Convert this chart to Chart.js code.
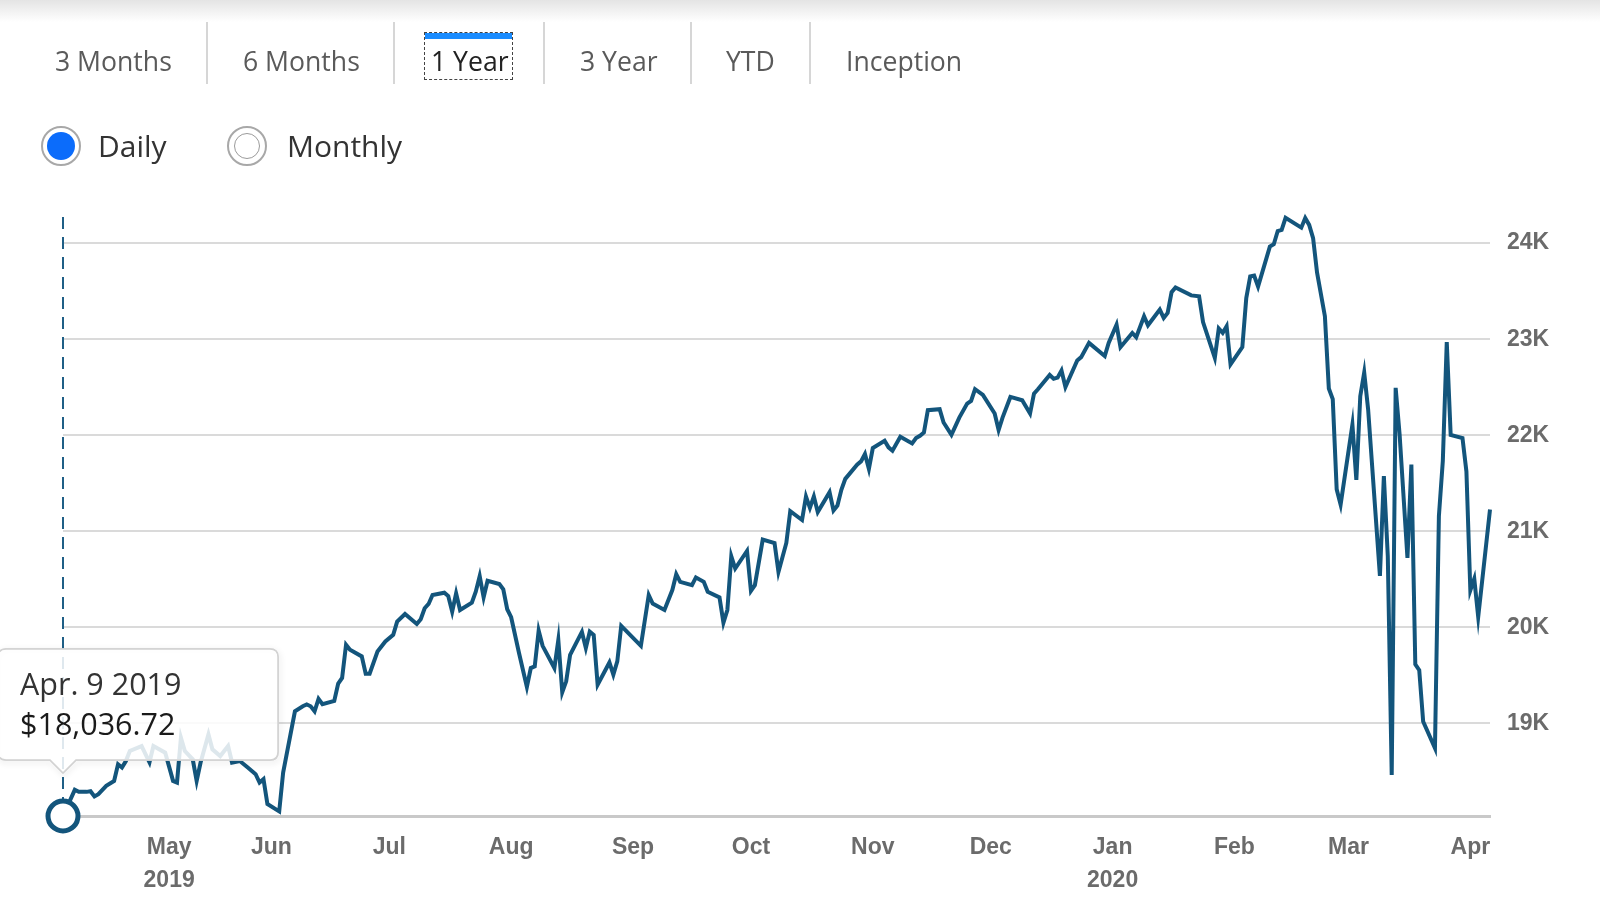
<!DOCTYPE html>
<html>
<head>
<meta charset="utf-8">
<title>Growth of 10K - 1 Year</title>
<script src="https://cdn.jsdelivr.net/npm/chart.js@4.4.1/dist/chart.umd.min.js"></script>
<style>
  html, body { margin: 0; padding: 0; background: #fff; }
  body { width: 1600px; height: 897px; overflow: hidden; position: relative; font-family: "Open Sans", sans-serif; }
  .shade { position: absolute; left: 0; top: 0; width: 1600px; height: 22px; background: linear-gradient(#e4e4e4, #ffffff); }
  .tab { position: absolute; top: 41px; line-height: 40px; font-size: 26.6px; color: #5a5a5a; white-space: nowrap; }
  .tab.active { color: #222; }
  .sep { position: absolute; top: 22px; width: 2px; height: 62px; background: #d6d6d6; }
  .focus { position: absolute; left: 424px; top: 32px; width: 87px; height: 46px; border: 1.5px dashed #444; }
  .focus .bar { position: absolute; left: 0; top: 0; right: 0; height: 6px; background: #1a8cff; }
  .radio { position: absolute; top: 126px; width: 36px; height: 36px; border: 2px solid #a8a8a8; border-radius: 50%; }
  .radio .dot { position: absolute; left: 4px; top: 4px; width: 28px; height: 28px; border-radius: 50%; background: #0b6cfb; }
  .radio .ring { position: absolute; left: 5px; top: 5px; width: 24px; height: 24px; border-radius: 50%; border: 1.5px solid #9a9a9a; }
  .rlabel { position: absolute; top: 126px; line-height: 40px; font-size: 30px; color: #333; }
  #chart { position: absolute; left: 0; top: 0; }
</style>
</head>
<body>
<canvas id="chart" width="1600" height="897"></canvas>
<div class="shade"></div>

<span class="tab" style="left:55px">3 Months</span>
<div class="sep" style="left:206px"></div>
<span class="tab" style="left:243px">6 Months</span>
<div class="sep" style="left:393px"></div>
<div class="focus"><div class="bar"></div></div>
<span class="tab active" style="left:431px">1 Year</span>
<div class="sep" style="left:543px"></div>
<span class="tab" style="left:580px">3 Year</span>
<div class="sep" style="left:690px"></div>
<span class="tab" style="left:726px">YTD</span>
<div class="sep" style="left:809px"></div>
<span class="tab" style="left:846px">Inception</span>

<div class="radio" style="left:41px"><div class="dot"></div></div>
<span class="rlabel" style="left:98px">Daily</span>
<div class="radio" style="left:227px"><div class="ring"></div></div>
<span class="rlabel" style="left:287px">Monthly</span>

<script>
// first day of the series, other points are day offsets from it
const startDate = new Date(2019, 3, 9);

const dayOffsets = [
  0, 3, 4, 6, 7, 8, 9, 11, 13, 14, 15, 16, 17, 20, 22, 23, 26, 28, 29, 30,
  31, 33, 34, 35, 37, 38, 40, 42, 43, 45, 47, 49, 50, 51, 52, 55, 56, 59, 61, 62,
  63, 64, 65, 66, 69, 70, 71, 72, 73, 76, 77, 78, 80, 82, 84, 85, 87, 90, 91, 92,
  93, 94, 97, 98, 99, 100, 101, 104, 105, 106, 107, 108, 111, 112, 113, 114, 116, 118, 119, 120,
  121, 122, 125, 126, 127, 128, 129, 132, 133, 134, 135, 136, 139, 140, 141, 142, 147, 149, 150, 153,
  155, 156, 157, 160, 161, 163, 164, 167, 168, 169, 170, 171, 174, 175, 176, 178, 181, 182, 184, 185,
  188, 189, 190, 191, 192, 195, 196, 197, 198, 199, 202, 203, 204, 205, 206, 209, 210, 211, 213, 216,
  217, 218, 219, 220, 223, 224, 226, 228, 230, 231, 232, 234, 237, 238, 239, 241, 244, 246, 247, 248,
  251, 252, 253, 254, 255, 258, 259, 261, 265, 266, 268, 269, 272, 273, 275, 276, 279, 280, 281, 282,
  283, 287, 289, 290, 293, 294, 295, 296, 297, 300, 301, 302, 303, 304, 307, 308, 309, 310, 311, 315,
  316, 317, 318, 319, 321, 322, 323, 324, 325, 328, 329, 330, 331, 332, 335, 336, 337, 338, 339, 340,
  342, 343, 344, 345, 346, 349, 350, 351, 352, 353, 356, 357, 358, 359, 360, 363
];

const values = [
  18036.72, 18309, 18288, 18288, 18295, 18240, 18264, 18350, 18402, 18575, 18541, 18609, 18713, 18765, 18596, 18765, 18696, 18402, 18385, 18852,
  18713, 18627, 18402, 18593, 18886, 18731, 18661, 18765, 18593, 18609, 18541, 18472, 18385, 18420, 18161, 18085, 18489, 19127, 19179, 19197,
  19179, 19127, 19256, 19200, 19235, 19415, 19474, 19819, 19767, 19698, 19518, 19518, 19749, 19853, 19922, 20060, 20140, 20036, 20085, 20199,
  20244, 20337, 20361, 20326, 20164, 20354, 20181, 20257, 20371, 20534, 20313, 20485, 20451, 20396, 20189, 20106, 19733, 19380, 19577, 19594,
  19967, 19808, 19577, 19870, 19324, 19438, 19715, 19953, 19785, 19956, 19922, 19404, 19635, 19508, 19646, 20016, 19808, 20337, 20249, 20181,
  20389, 20554, 20474, 20440, 20520, 20474, 20371, 20313, 20050, 20181, 20741, 20613, 20796, 20381, 20440, 20914, 20879, 20578, 20879, 21210,
  21118, 21363, 21245, 21363, 21200, 21408, 21218, 21269, 21432, 21546, 21694, 21728, 21805, 21650, 21867, 21943, 21874, 21839, 21984, 21915,
  21971, 21995, 22029, 22261, 22271, 22133, 22005, 22184, 22330, 22358, 22479, 22420, 22226, 22054, 22184, 22399, 22365, 22226, 22433, 22479,
  22627, 22588, 22600, 22675, 22503, 22779, 22813, 22962, 22824, 22962, 23152, 22917, 23065, 23021, 23238, 23145, 23308, 23221, 23273, 23490,
  23539, 23456, 23446, 23179, 22806, 23111, 23065, 23135, 22738, 22917, 23428, 23653, 23663, 23549, 23964, 23988, 24126, 24137, 24264, 24161,
  24261, 24190, 24052, 23695, 23239, 22487, 22376, 21437, 21278, 22110, 21536, 22407, 22653, 22269, 20537, 21575, 20743, 18465, 22494, 22011,
  20723, 21694, 19614, 19555, 19020, 18743, 21159, 21734, 22970, 22003, 21971, 21623, 20387, 20506, 20109, 21227
];

// month tick positions (day offsets) and their labels
const monthTicks = [27, 53, 83, 114, 145, 175, 206, 236, 267, 298, 327, 358];
const monthLabels = [["May", "2019"], "Jun", "Jul", "Aug", "Sep", "Oct", "Nov", "Dec", ["Jan", "2020"], "Feb", "Mar", "Apr"];
const yTicks = [19000, 20000, 21000, 22000, 23000, 24000];

const hoverIndex = 0;
const lineColor = "#13557c";
const shortMonths = ["Jan.", "Feb.", "Mar.", "Apr.", "May", "Jun.", "Jul.", "Aug.", "Sep.", "Oct.", "Nov.", "Dec."];

function dateForOffset(days) {
  const d = new Date(startDate);
  d.setDate(d.getDate() + days);
  return d;
}

function formatTooltipDate(d) {
  return `${shortMonths[d.getMonth()]} ${d.getDate()} ${d.getFullYear()}`;
}

function formatMoney(v) {
  return "$" + v.toLocaleString("en-US", { minimumFractionDigits: 2, maximumFractionDigits: 2 });
}

function roundRectPath(ctx, x, y, w, h, r, caretX, caretTipY, caretHalf) {
  ctx.beginPath();
  ctx.moveTo(x + r, y);
  ctx.lineTo(x + w - r, y);
  ctx.quadraticCurveTo(x + w, y, x + w, y + r);
  ctx.lineTo(x + w, y + h - r);
  ctx.quadraticCurveTo(x + w, y + h, x + w - r, y + h);
  ctx.lineTo(caretX + caretHalf, y + h);
  ctx.lineTo(caretX, caretTipY);
  ctx.lineTo(caretX - caretHalf, y + h);
  ctx.lineTo(x + r, y + h);
  ctx.quadraticCurveTo(x, y + h, x, y + h - r);
  ctx.lineTo(x, y + r);
  ctx.quadraticCurveTo(x, y, x + r, y);
  ctx.closePath();
}

const hoverPlugin = {
  id: "hoverTip",
  beforeDatasetsDraw(chart) {
    const { ctx, chartArea, scales } = chart;
    const px = scales.x.getPixelForValue(dayOffsets[hoverIndex]);
    ctx.save();
    ctx.strokeStyle = "#1f5f86";
    ctx.lineWidth = 2;
    ctx.setLineDash([12, 8]);
    ctx.beginPath();
    ctx.moveTo(px, chartArea.top);
    ctx.lineTo(px, chartArea.bottom);
    ctx.stroke();
    ctx.restore();
  },
  afterDraw(chart) {
    const { ctx, scales } = chart;
    const px = scales.x.getPixelForValue(dayOffsets[hoverIndex]);
    const py = scales.y.getPixelForValue(values[hoverIndex]);

    const tipY = py - 43;
    const boxH = 111;
    const boxW = 280;
    const boxBottom = tipY - 13;
    const boxTop = boxBottom - boxH;
    const boxLeft = Math.max(-2, px - boxW / 2);

    ctx.save();
    ctx.shadowColor = "rgba(0,0,0,0.18)";
    ctx.shadowBlur = 6;
    ctx.shadowOffsetX = 1;
    ctx.shadowOffsetY = 2;
    ctx.strokeStyle = "#d2d2d2";
    ctx.lineWidth = 1.5;
    roundRectPath(ctx, boxLeft, boxTop, boxW, boxH, 8, px, tipY, 13);
    ctx.stroke();
    ctx.restore();

    ctx.save();
    roundRectPath(ctx, boxLeft, boxTop, boxW, boxH, 8, px, tipY, 13);
    ctx.fillStyle = "rgba(255,255,255,0.86)";
    ctx.fill();
    ctx.strokeStyle = "#d2d2d2";
    ctx.lineWidth = 1.5;
    ctx.stroke();

    ctx.fillStyle = "#333";
    ctx.textBaseline = "middle";
    ctx.font = '30.5px "Open Sans", sans-serif';
    ctx.fillText(formatTooltipDate(dateForOffset(dayOffsets[hoverIndex])), boxLeft + 22, boxTop + 37);
    ctx.fillStyle = "#1a1a1a";
    ctx.fillText(formatMoney(values[hoverIndex]), boxLeft + 22, boxTop + 77);
    ctx.restore();
  },
};

const canvas = document.getElementById("chart");

new Chart(canvas, {
  type: "line",
  data: {
    datasets: [
      {
        data: dayOffsets.map((d, i) => ({ x: d, y: values[i] })),
        borderColor: lineColor,
        borderWidth: 4,
        tension: 0,
        clip: false,
        pointRadius: ctx => (ctx.dataIndex === hoverIndex ? 15 : 0),
        pointHoverRadius: ctx => (ctx.dataIndex === hoverIndex ? 15 : 0),
        pointBorderWidth: 5,
        pointBorderColor: lineColor,
        pointBackgroundColor: "#ffffff",
      },
    ],
  },
  options: {
    responsive: false,
    animation: false,
    events: [],
    layout: {
      padding: { left: 63, top: 217, right: 0, bottom: 0 },
    },
    plugins: {
      legend: { display: false },
      tooltip: { enabled: false },
    },
    scales: {
      x: {
        type: "linear",
        min: 0,
        max: 363,
        afterBuildTicks: scale => {
          scale.ticks = monthTicks.map(v => ({ value: v }));
        },
        afterFit: scale => {
          scale.height = 81;
        },
        grid: { display: false, drawTicks: false },
        border: { display: true, color: "#c9c9c9", width: 3 },
        ticks: {
          autoSkip: false,
          maxRotation: 0,
          padding: 15,
          color: "#6b6b6b",
          font: { family: '"Liberation Sans", Arial, sans-serif', weight: "bold", size: 23, lineHeight: 1.45 },
          callback: (value, index) => monthLabels[index],
        },
      },
      y: {
        position: "right",
        min: Math.min(...values),
        max: Math.max(...values) + 8,
        afterBuildTicks: scale => {
          scale.ticks = yTicks.map(v => ({ value: v }));
        },
        afterFit: scale => {
          scale.width = 110;
        },
        grid: { color: "#dadada", lineWidth: 2, drawTicks: false },
        border: { display: false },
        ticks: {
          padding: 17,
          color: "#6b6b6b",
          font: { family: '"Liberation Sans", Arial, sans-serif', weight: "bold", size: 23 },
          callback: value => value / 1000 + "K",
        },
      },
    },
  },
  plugins: [hoverPlugin],
});
</script>
</body>
</html>
